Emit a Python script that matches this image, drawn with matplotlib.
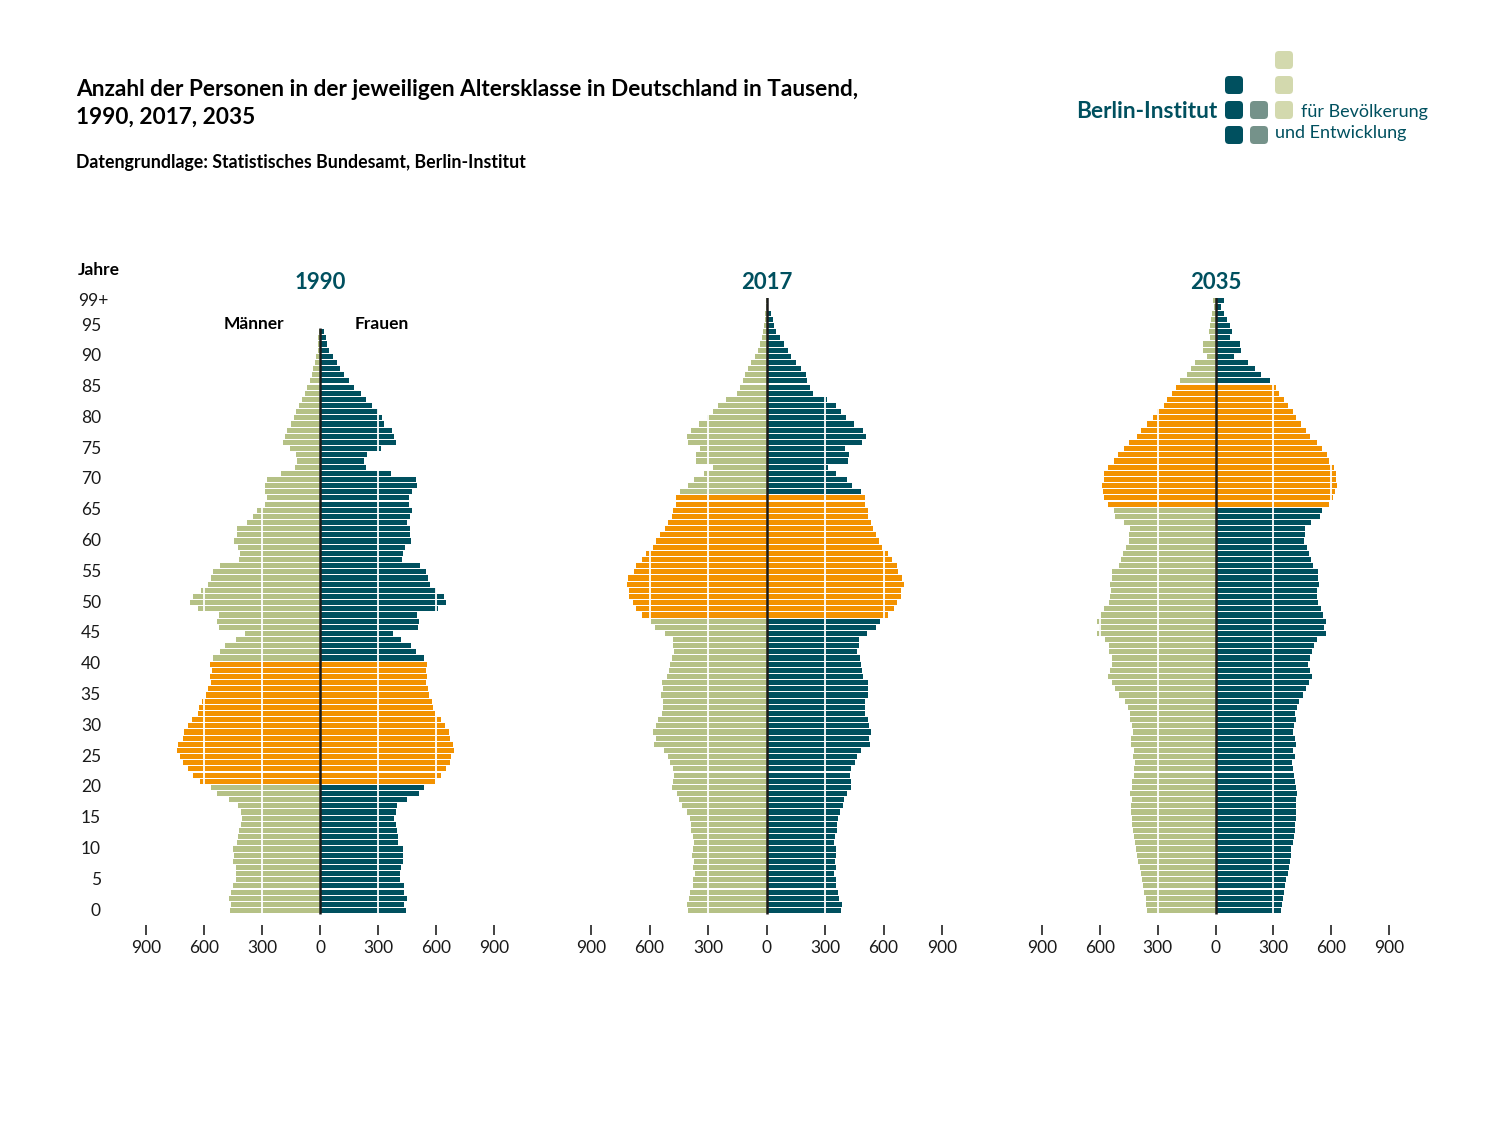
import numpy as np
import matplotlib
matplotlib.use("Agg")
import matplotlib.pyplot as plt
from matplotlib.patches import FancyBboxPatch
from matplotlib.transforms import blended_transform_factory

plt.rcParams['font.family'] = ['Lato', 'DejaVu Sans']

# Bevoelkerung in Tausend, Alter 0 aufwaerts
years = [1990, 2017, 2035]

male_1990 = [468, 458, 471, 459, 451, 434, 432, 435, 449, 447,
             451, 427, 422, 418, 411, 401, 411, 422, 471, 533,
             564, 619, 656, 684, 711, 723, 739, 737, 711, 701,
             682, 663, 632, 624, 610, 591, 581, 566, 569, 560,
             569, 555, 518, 490, 435, 389, 521, 535, 521, 631,
             670, 658, 617, 578, 566, 552, 518, 418, 416, 425,
             446, 430, 427, 377, 347, 327, 285, 274, 285, 286,
             274, 200, 127, 118, 123, 156, 189, 183, 173, 149,
             137, 125, 108, 94, 79, 65, 53, 43, 34, 26,
             19, 12, 10, 9, 5]
female_1990 = [446, 437, 449, 435, 432, 415, 413, 417, 427, 427,
               429, 406, 401, 398, 393, 381, 391, 399, 449, 511,
               540, 593, 627, 650, 672, 677, 692, 687, 670, 665,
               646, 627, 595, 586, 578, 564, 560, 550, 554, 547,
               554, 536, 497, 473, 418, 379, 506, 514, 500, 608,
               650, 641, 600, 569, 560, 549, 518, 423, 429, 440,
               473, 463, 466, 451, 466, 478, 461, 459, 478, 502,
               495, 367, 238, 226, 243, 317, 394, 384, 370, 333,
               320, 298, 269, 240, 211, 175, 151, 125, 105, 86,
               65, 48, 38, 29, 20]

male_2017 = [403, 408, 398, 393, 379, 377, 369, 377, 370, 382,
             379, 372, 377, 386, 387, 393, 406, 432, 447, 461,
             485, 480, 475, 482, 497, 507, 524, 576, 567, 583,
             569, 554, 536, 532, 533, 542, 533, 535, 509, 500,
             495, 487, 475, 478, 482, 523, 574, 590, 641, 668,
             687, 703, 706, 716, 708, 682, 667, 641, 620, 584,
             567, 545, 523, 507, 485, 480, 466, 465, 444, 403,
             372, 321, 273, 362, 360, 343, 403, 408, 389, 345,
             305, 276, 247, 209, 153, 135, 122, 111, 93, 77,
             58, 45, 34, 24, 19, 14, 10, 7, 3, 2]
female_2017 = [382, 387, 374, 369, 357, 355, 346, 355, 350, 358,
               357, 348, 353, 362, 362, 367, 375, 394, 398, 413,
               434, 434, 427, 435, 454, 466, 485, 530, 526, 536,
               526, 521, 507, 506, 507, 519, 519, 523, 497, 490,
               485, 478, 464, 473, 476, 514, 564, 584, 624, 655,
               670, 689, 689, 703, 696, 675, 667, 644, 624, 590,
               576, 562, 545, 538, 521, 519, 506, 504, 485, 440,
               413, 358, 317, 417, 422, 405, 490, 509, 495, 449,
               410, 382, 355, 312, 238, 223, 209, 202, 178, 153,
               127, 108, 91, 69, 51, 39, 31, 21, 10, 7]

male_2035 = [353, 358, 363, 370, 375, 382, 389, 394, 401, 408,
             413, 420, 423, 427, 434, 434, 437, 439, 435, 444,
             435, 434, 425, 425, 418, 430, 425, 439, 437, 430,
             435, 444, 444, 454, 471, 499, 523, 538, 559, 548,
             535, 538, 550, 555, 571, 617, 605, 615, 595, 578,
             555, 548, 543, 548, 536, 535, 502, 490, 482, 466,
             449, 447, 444, 475, 519, 528, 559, 579, 583, 588,
             578, 576, 559, 526, 504, 475, 451, 408, 384, 355,
             326, 302, 269, 250, 225, 206, 185, 149, 125, 106,
             43, 65, 67, 29, 36, 31, 24, 17, 7, 14]
female_2035 = [341, 343, 350, 355, 362, 367, 374, 381, 386, 391,
               394, 401, 406, 410, 413, 417, 418, 418, 415, 425,
               415, 413, 405, 403, 398, 410, 403, 415, 411, 403,
               408, 415, 413, 422, 432, 456, 468, 485, 500, 492,
               482, 488, 502, 511, 528, 571, 564, 572, 559, 548,
               533, 528, 528, 536, 533, 533, 506, 495, 487, 475,
               459, 463, 463, 495, 540, 555, 588, 612, 621, 631,
               624, 627, 617, 591, 578, 550, 528, 489, 468, 446,
               420, 403, 374, 357, 327, 312, 285, 237, 207, 170,
               98, 134, 129, 75, 87, 75, 62, 46, 29, 46]

male = [male_1990, male_2017, male_2035]
female = [female_1990, female_2017, female_2035]

# Geburtsjahrgaenge 1950-1969 hervorgehoben
boom_first, boom_last = 1950, 1969

xticks = [-900, -600, -300, 0, 300, 600, 900]
xtick_labels = ['900', '600', '300', '0', '300', '600', '900']
age_ticks = [0, 5, 10, 15, 20, 25, 30, 35, 40, 45, 50, 55, 60, 65, 70,
             75, 80, 85, 90, 95]

c_male = '#b5c186'
c_female = '#00505f'
c_boom = '#f39200'
c_teal = '#00505f'

W, H = 1500, 1125
fig = plt.figure(figsize=(15, 11.25), dpi=100)

# pixel extents of the three panels (x of -900 and +900)
panel_x = [(146, 494), (591, 942), (1042, 1389)]
y_bot, y_top = 924.7, 297.8

axes = []
for i, year in enumerate(years):
    x0, x1 = panel_x[i]
    ax = fig.add_axes([x0 / W, 1 - y_bot / H, (x1 - x0) / W, (y_bot - y_top) / H])
    axes.append(ax)
    m = np.array(male[i])
    f = np.array(female[i])
    ages = np.arange(len(m))
    boom = (ages >= year - boom_last) & (ages <= year - boom_first)
    cm = np.where(boom, c_boom, c_male)
    cf = np.where(boom, c_boom, c_female)
    ax.barh(ages, -m, height=0.83, color=cm, linewidth=0, zorder=2)
    ax.barh(ages, f, height=0.83, color=cf, linewidth=0, zorder=2)
    for v in (-600, -300, 300, 600):
        ax.axvline(v, color='white', lw=1.3, zorder=3)
    ax.plot([0, 0], [-0.5, ages[-1] + 0.6], color='#1c1c1c', lw=1.8, zorder=4,
            solid_capstyle='butt')
    ax.set_xlim(-900, 900)
    ax.set_ylim(-2.3, 99.5)
    for s in ax.spines.values():
        s.set_visible(False)
    ax.set_yticks([])
    ax.set_xticks(xticks)
    ax.set_xticklabels(xtick_labels)
    ax.tick_params(axis='x', length=7, width=1.3, color='#333333', pad=4,
                   labelsize=12.5, labelcolor='#1a1a1a')
    ax.text(0, 101.0, str(year), ha='center', va='baseline', fontsize=16,
            fontweight='bold', color=c_teal)

ax0 = axes[0]
ax0.text(-186, 95.3, 'Männer', ha='right', va='center', fontsize=12.5,
         fontweight='bold', color='black')
ax0.text(181, 95.3, 'Frauen', ha='left', va='center', fontsize=12.5,
         fontweight='bold', color='black')

# age labels on the left
tr = blended_transform_factory(fig.transFigure, ax0.transData)
for a in age_ticks:
    fig.text(101 / W, a, str(a), transform=tr, ha='right', va='center',
             fontsize=12.5, color='#1a1a1a')
fig.text(78 / W, 99, '99+', transform=tr, ha='left', va='center',
         fontsize=12.5, color='#1a1a1a')

# overlay for title and logo in pixel coordinates
ov = fig.add_axes([0, 0, 1, 1], zorder=-1)
ov.set_xlim(0, W)
ov.set_ylim(H, 0)
ov.axis('off')

ov.text(76, 96, 'Anzahl der Personen in der jeweiligen Altersklasse in Deutschland in Tausend,',
        fontsize=16.3, fontweight='bold', va='baseline', ha='left')
ov.text(76, 124, '1990, 2017, 2035', fontsize=16.3, fontweight='bold',
        va='baseline', ha='left')
ov.text(76, 168, 'Datengrundlage: Statistisches Bundesamt, Berlin-Institut',
        fontsize=12.8, fontweight='bold', va='baseline', ha='left')
ov.text(78, 275, 'Jahre', fontsize=12.5, fontweight='bold', va='baseline', ha='left')

# logo
sq = [(1225, 76, '#00505f'), (1225, 101, '#00505f'), (1225, 126, '#00505f'),
      (1250, 101, '#75928a'), (1250, 126, '#75928a'),
      (1275, 51, '#d3d9ae'), (1275, 76, '#d3d9ae'), (1275, 101, '#d3d9ae')]
for x, y, c in sq:
    ov.add_patch(FancyBboxPatch((x + 3, y + 3), 12, 12,
                                boxstyle='round,pad=3,rounding_size=4',
                                fc=c, ec='none'))
ov.text(1217, 118, 'Berlin-Institut', fontsize=16.3, fontweight='bold',
        color=c_teal, ha='right', va='baseline')
ov.text(1301, 117, 'für Bevölkerung', fontsize=13, color=c_teal,
        ha='left', va='baseline')
ov.text(1275, 138, 'und Entwicklung', fontsize=13, color=c_teal,
        ha='left', va='baseline')

fig.savefig('out.png', dpi=100)
